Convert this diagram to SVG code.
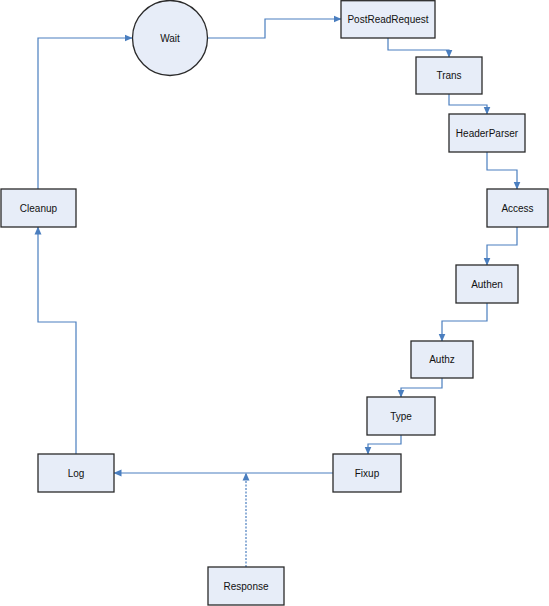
<svg xmlns="http://www.w3.org/2000/svg" width="549" height="606" viewBox="0 0 549 606">
<style>
.n rect, .n circle { fill: #E7EDF8; stroke: #2a2a2a; stroke-width: 1.3; }
.n text { font-family: "Liberation Sans", Arial, sans-serif; font-size: 10px; fill: #111; text-anchor: middle; dominant-baseline: central; }
.c path { fill: none; stroke: #4A7EBF; stroke-width: 1.2; marker-end: url(#ah); }
.c path.d { stroke-dasharray: 2 1.5; }
</style>
<defs>
<marker id="ah" markerWidth="8" markerHeight="8" refX="7.5" refY="4" orient="auto" markerUnits="userSpaceOnUse">
<path d="M0,0.5 L8,4 L0,7.5 z" fill="#4A7EBF"/>
</marker>
</defs>
<rect width="549" height="606" fill="#fff"/>
<g class="c" id="connectors">
<path d="M38,189 V38 H132"/>
<path d="M208,38 H265 V19 H341"/>
<path d="M388,38 V50 H449 V57"/>
<path d="M449,94 V105 H487 V114"/>
<path d="M487,152 V170 H517 V189"/>
<path d="M517,227 V245 H487 V265"/>
<path d="M487,303 V321 H442 V341"/>
<path d="M442,378 V388 H401 V397"/>
<path d="M401,435 V444 H368 V454"/>
<path d="M333,473 H114"/>
<path class="d" d="M246,567 V473"/>
<path d="M76,454 V322 H38 V227"/>
</g>
<g class="n" id="wait"><circle cx="170" cy="38" r="37.5"/><text x="170" y="38">Wait</text></g>
<g class="n" id="postreadrequest"><rect x="341" y="0.7" width="94" height="37.3"/><text x="388" y="19">PostReadRequest</text></g>
<g class="n" id="trans"><rect x="416" y="57" width="66" height="37"/><text x="449" y="75.5">Trans</text></g>
<g class="n" id="headerparser"><rect x="449" y="114" width="76" height="38"/><text x="487" y="133">HeaderParser</text></g>
<g class="n" id="access"><rect x="487" y="189" width="61" height="38"/><text x="517.5" y="208">Access</text></g>
<g class="n" id="authen"><rect x="456" y="265" width="62" height="38"/><text x="487" y="284">Authen</text></g>
<g class="n" id="authz"><rect x="411" y="341" width="62" height="37"/><text x="442" y="359.5">Authz</text></g>
<g class="n" id="type"><rect x="367" y="397" width="68" height="38"/><text x="401" y="416">Type</text></g>
<g class="n" id="fixup"><rect x="333" y="454" width="68" height="38"/><text x="367" y="473">Fixup</text></g>
<g class="n" id="log"><rect x="38" y="454" width="76" height="38"/><text x="76" y="473">Log</text></g>
<g class="n" id="response"><rect x="208" y="567" width="76" height="38"/><text x="246" y="586">Response</text></g>
<g class="n" id="cleanup"><rect x="1" y="189" width="75" height="38"/><text x="38.5" y="208">Cleanup</text></g>
</svg>
